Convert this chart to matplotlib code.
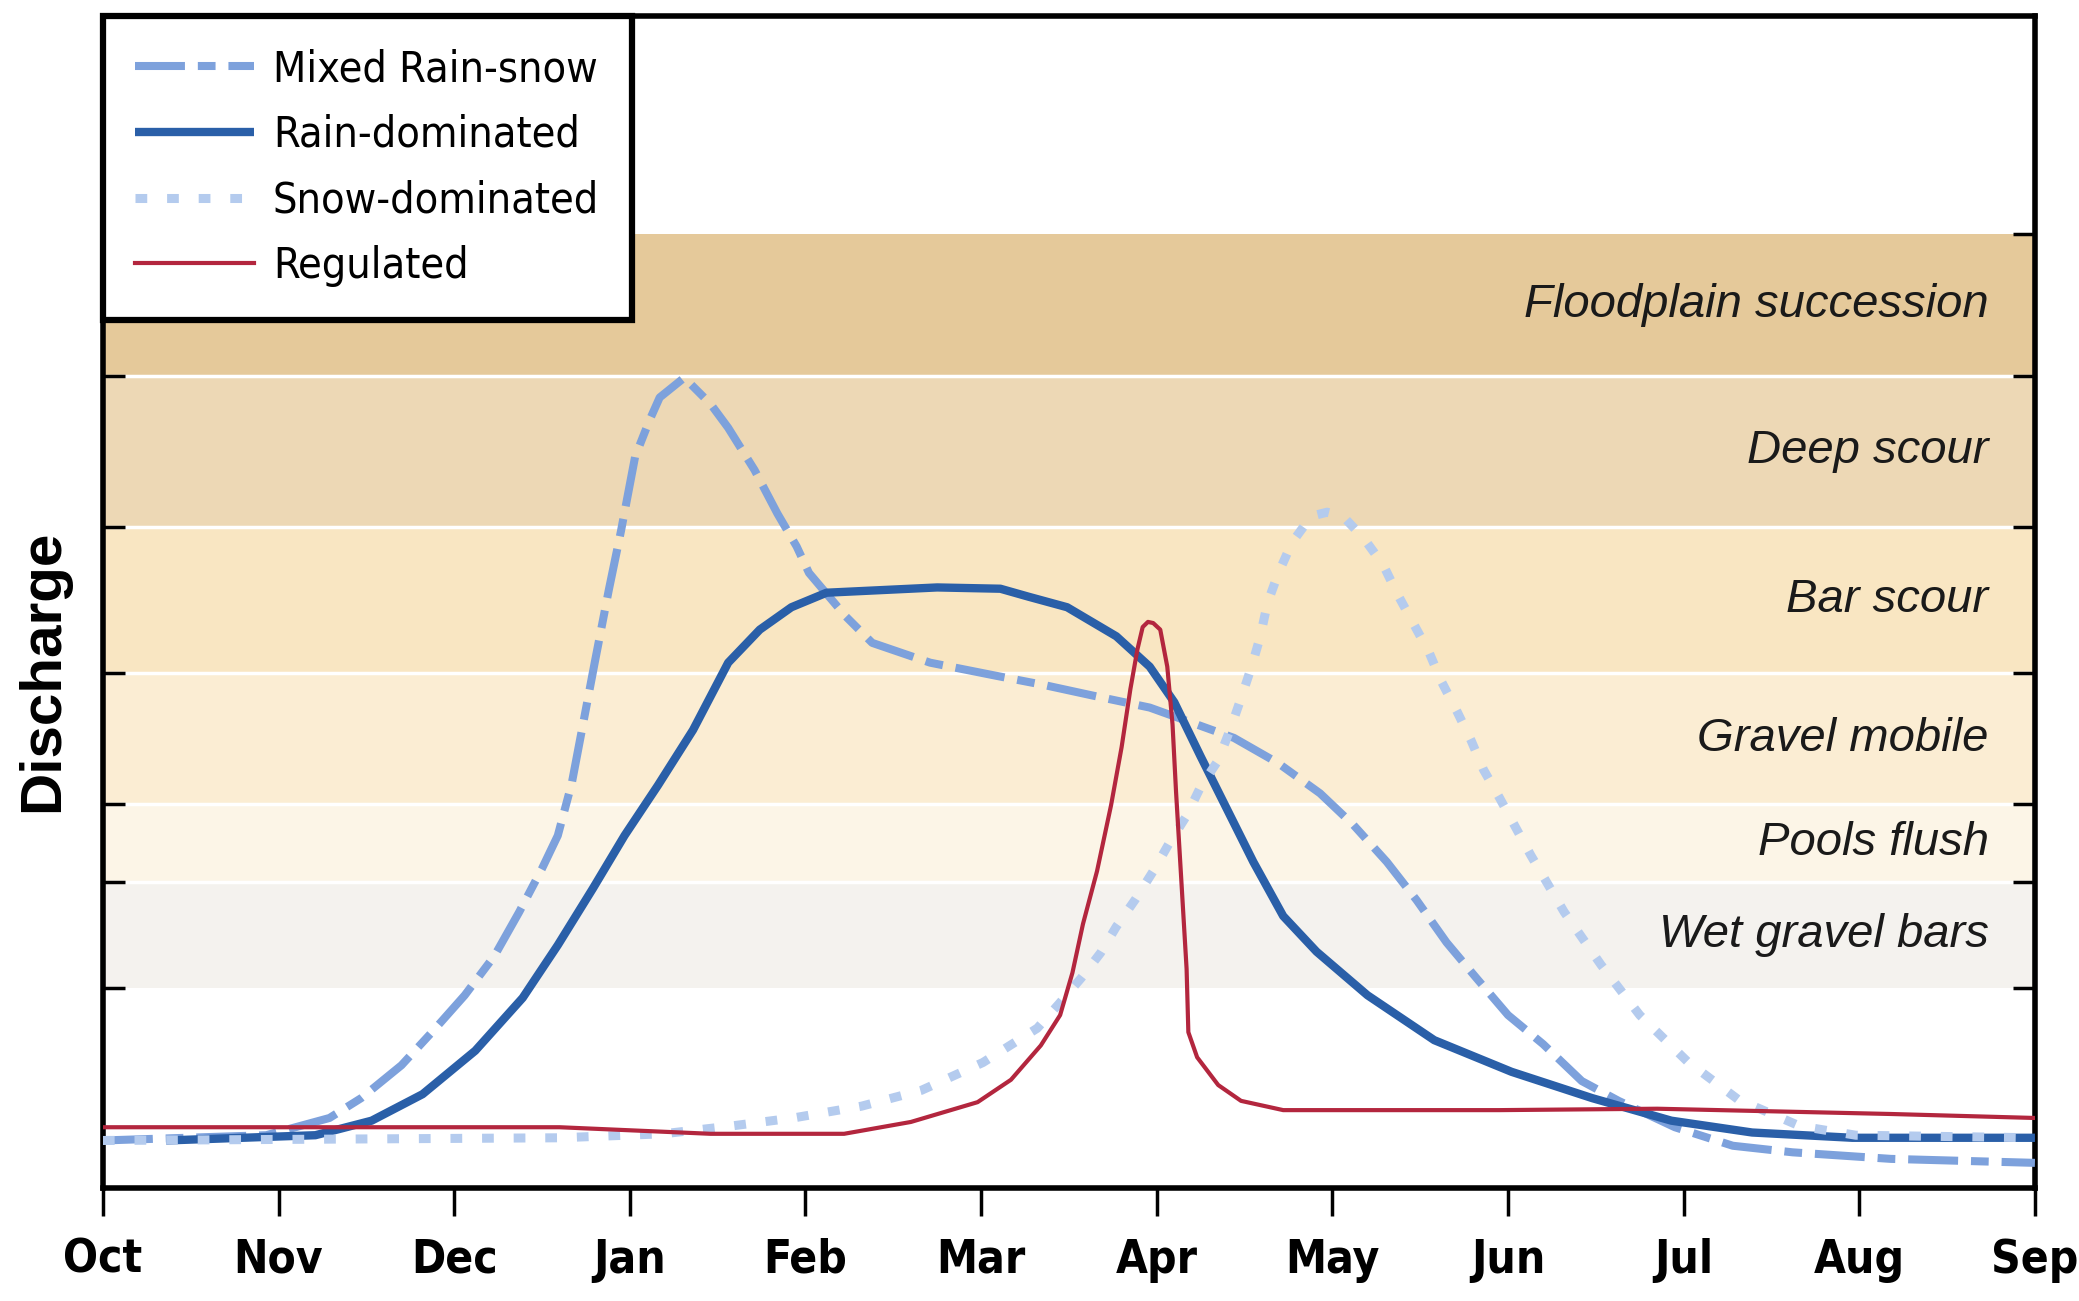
import matplotlib
matplotlib.use("Agg")
import matplotlib.pyplot as plt
from matplotlib import font_manager
from matplotlib.font_manager import FontProperties

# --- Data (x: months since 1 Oct, y: relative discharge 0-100) ---
months = ["Oct", "Nov", "Dec", "Jan", "Feb", "Mar", "Apr", "May", "Jun", "Jul", "Aug", "Sep"]

mixed_x = [0, 0.93, 1.29, 1.47, 1.70, 1.88, 2.06, 2.23, 2.37, 2.50, 2.59, 2.67, 2.80,
           2.88, 2.95, 3.03, 3.11, 3.17, 3.31, 3.46, 3.56, 3.71, 3.84, 3.95, 4.02, 4.23,
           4.38, 4.71, 5.09, 5.36, 5.64, 5.96, 6.17, 6.44, 6.69, 6.93, 7.12, 7.31, 7.48,
           7.65, 7.82, 8.00, 8.20, 8.42, 8.63, 8.95, 9.28, 9.62, 10.18, 11]
mixed_y = [4.05, 4.5, 5.97, 7.66, 10.47, 13.4, 16.44, 19.82, 23.54, 27.25, 30.07, 34.57, 44.82,
           51.0, 56.08, 62.39, 65.43, 67.45, 69.14, 66.89, 64.86, 61.26, 57.55, 54.73, 52.48, 48.76,
           46.51, 44.82, 43.69, 42.91, 42.0, 40.99, 39.86, 38.4, 36.26, 33.67, 30.97, 27.82, 24.55,
           20.95, 17.91, 14.75, 12.27, 9.12, 7.43, 5.18, 3.6, 3.04, 2.48, 2.14]

rain_x = [0.36, 1.21, 1.53, 1.82, 2.12, 2.39, 2.59, 2.79, 2.97, 3.16, 3.36, 3.56, 3.74,
          3.92, 4.12, 4.75, 5.11, 5.27, 5.49, 5.77, 5.96, 6.10, 6.25, 6.40, 6.55, 6.72,
          6.91, 7.20, 7.58, 8.02, 8.48, 8.93, 9.39, 9.96, 11]
rain_y = [4.05, 4.5, 5.74, 8.0, 11.71, 16.22, 20.72, 25.56, 30.07, 34.35, 39.08, 44.82, 47.64,
          49.55, 50.79, 51.24, 51.13, 50.45, 49.55, 47.07, 44.48, 41.44, 36.82, 32.32, 27.82, 23.2,
          20.16, 16.44, 12.61, 9.91, 7.66, 5.74, 4.73, 4.28, 4.28]

snow_x = [0, 2.60, 3.19, 3.58, 3.93, 4.32, 4.66, 5.01, 5.32, 5.44, 5.57, 5.68, 5.77, 5.88,
          5.98, 6.07, 6.17, 6.25, 6.35, 6.42, 6.48, 6.54, 6.59, 6.63, 6.69, 6.77, 6.88, 6.97,
          7.06, 7.18, 7.29, 7.37, 7.46, 7.55, 7.62, 7.71, 7.79, 7.86, 7.95, 8.13, 8.32, 8.53,
          8.75, 9.02, 9.31, 9.66, 9.98, 11]
snow_y = [4.05, 4.28, 4.62, 5.29, 5.97, 6.98, 8.33, 10.7, 13.63, 15.65, 17.91, 20.05, 22.3, 24.66,
          27.03, 29.39, 31.76, 34.23, 36.49, 39.19, 41.78, 44.48, 47.07, 49.89, 52.36, 55.07, 57.32, 57.66,
          57.32, 55.41, 53.15, 50.68, 48.2, 45.72, 43.24, 40.65, 38.18, 35.7, 33.33, 28.38, 23.54, 19.03,
          14.75, 10.81, 7.55, 5.29, 4.5, 4.28]

reg_x = [0, 2.60, 3.46, 4.22, 4.60, 4.98, 5.17, 5.34, 5.45, 5.52, 5.58, 5.66, 5.74, 5.80,
         5.85, 5.89, 5.92, 5.95, 5.98, 6.02, 6.06, 6.09, 6.11, 6.14, 6.17, 6.18, 6.23, 6.35,
         6.48, 6.72, 7.00, 7.95, 8.85, 10.18, 11]
reg_y = [5.18, 5.18, 4.62, 4.62, 5.63, 7.32, 9.23, 12.16, 14.75, 18.36, 22.52, 27.03, 32.66, 37.61,
         42.57, 45.95, 47.86, 48.3, 48.2, 47.64, 44.48, 39.53, 33.78, 26.24, 18.69, 13.29, 11.15, 8.78,
         7.43, 6.64, 6.64, 6.64, 6.76, 6.31, 5.97]

band_names = ["Wet gravel bars", "Pools flush", "Gravel mobile", "Bar scour",
              "Deep scour", "Floodplain succession"]
band_edges = [17.1, 26.1, 32.8, 43.9, 56.4, 69.3, 81.4]
band_colors = ["#F4F2EE", "#FCF5E7", "#FBEDD3", "#F9E6C2", "#EDD8B5", "#E5C99A"]


# --- Fonts: look for a condensed face, else fall back ---
def find_condensed(bold):
    for f in font_manager.fontManager.ttflist:
        name = f.name.lower() + " " + f.fname.lower()
        cond = ("narrow" in name or "condensed" in name
                or str(f.stretch) in ("condensed", "semi-condensed", "extra-condensed"))
        if not cond or "semicondensed" in name or f.style != "normal":
            continue
        w = f.weight if isinstance(f.weight, int) else font_manager.weight_dict.get(f.weight, 400)
        if (w >= 600) == bold:
            return f.fname
    return None


names = {f.name for f in font_manager.fontManager.ttflist}
plain = "Liberation Sans" if "Liberation Sans" in names else "DejaVu Sans"
reg_file = find_condensed(False)
bold_file = find_condensed(True)
if reg_file:
    legend_font = FontProperties(fname=reg_file, size=31)
else:
    legend_font = FontProperties(family=plain, size=29)
if bold_file:
    tick_font = FontProperties(fname=bold_file, size=33)
else:
    tick_font = FontProperties(family=plain, weight="bold", size=30)

fig = plt.figure(figsize=(20.79, 13.01), dpi=100)
ax = fig.add_axes([0.0495, 0.0869, 0.9293, 0.9008])

# --- Bands ---
for i, name in enumerate(band_names):
    lo, hi = band_edges[i], band_edges[i + 1]
    ax.axhspan(lo, hi, color=band_colors[i], lw=0, zorder=0)
    ax.text(0.976, (lo + hi) / 2, name, transform=ax.get_yaxis_transform(),
            ha="right", va="center", fontsize=34, style="italic",
            family=plain, color="#1a1a1a", zorder=1)
for e in band_edges[1:-1]:
    ax.axhline(e, color="white", lw=2.5, zorder=0.5)

# --- Lines ---
ax.plot(mixed_x, mixed_y, color="#7DA1DC", lw=5.8, dashes=(6.2, 1.6, 2.2, 1.6),
        label="Mixed Rain-snow", zorder=3)
ax.plot(rain_x, rain_y, color="#2A5FA8", lw=6, solid_capstyle="butt",
        solid_joinstyle="round", label="Rain-dominated", zorder=3)
ax.plot(snow_x, snow_y, color="#B4CBEE", lw=6.5, dashes=(1.3, 2.2),
        label="Snow-dominated", zorder=3)
ax.plot(reg_x, reg_y, color="#B3263E", lw=3, solid_joinstyle="round",
        label="Regulated", zorder=4)

ax.set_xlim(0, 11)
ax.set_ylim(0, 100)
ax.set_xticks(range(len(months)))
ax.set_xticklabels(months, fontproperties=tick_font)
ax.set_yticks(band_edges)
ax.set_yticklabels([])
ax.tick_params(axis="x", direction="out", length=20, width=2.5, pad=16)
ax.tick_params(axis="y", direction="in", length=16, width=2.5, left=True, right=True)

for s in ax.spines.values():
    s.set_linewidth(4)

ax.set_ylabel("Discharge", fontsize=42, fontweight="bold", family=plain)
ax.yaxis.set_label_coords(-0.017, 0.441)

leg = ax.legend(loc="upper left", bbox_to_anchor=(0, 1), borderaxespad=0,
                fancybox=False, framealpha=1, edgecolor="black",
                prop=legend_font, handlelength=2.75,
                handletextpad=0.45, labelspacing=0.55, borderpad=0.75)
leg.get_frame().set_linewidth(4.5)

fig.savefig("out.png", dpi=100)
